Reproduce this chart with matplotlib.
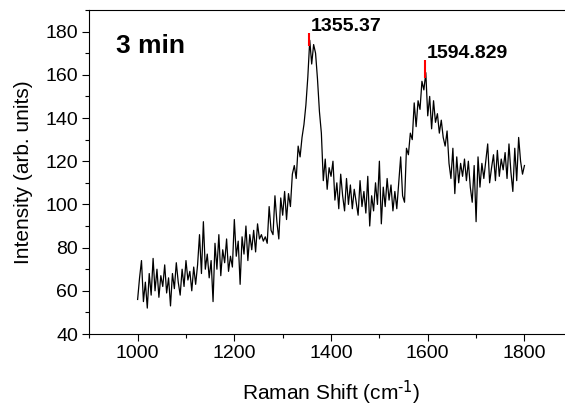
import numpy as np
import matplotlib
matplotlib.use('Agg')
import matplotlib.pyplot as plt

plt.rcParams['font.family'] = ['Liberation Sans', 'DejaVu Sans']
plt.rcParams['mathtext.default'] = 'regular'

# Raman intensity, every 4 cm-1 from 1000 to 1800
intensity = [
    56, 66, 74, 55, 64, 52, 68, 58, 75, 60,
    70, 57, 67, 62, 72, 59, 66, 53, 68, 61,
    73, 64, 58, 70, 62, 74, 65, 69, 60, 71,
    63, 72, 86, 68, 92, 70, 77, 66, 74, 55,
    82, 70, 86, 67, 79, 73, 84, 69, 76, 71,
    93, 76, 83, 63, 85, 77, 90, 74, 86, 79,
    88, 78, 91, 84, 86, 83, 85, 82, 99, 88,
    86, 104, 92, 84, 103, 95, 106, 93, 105, 99,
    114, 118, 112, 127, 122, 131, 137, 146, 159, 176,
    165, 174, 170, 158, 143, 133, 111, 121, 107, 117,
    113, 120, 102, 110, 98, 114, 104, 97, 112, 100,
    109, 98, 107, 101, 95, 111, 99, 106, 96, 113,
    90, 104, 97, 110, 100, 120, 91, 108, 99, 112,
    102, 109, 97, 106, 98, 110, 122, 104, 101, 126,
    123, 133, 130, 147, 136, 148, 144, 157, 153, 161,
    141, 150, 135, 148, 138, 142, 133, 139, 131, 127,
    134, 119, 112, 126, 105, 122, 110, 119, 113, 121,
    111, 120, 108, 101, 118, 92, 122, 108, 119, 112,
    120, 128, 110, 117, 123, 111, 125, 113, 121, 116,
    124, 112, 128, 115, 106, 126, 111, 131, 120, 114,
    118,
]
shift = np.linspace(1000, 1800, len(intensity))

# labelled peaks
peak_pos = [1355.37, 1594.829]
peak_labels = ['1355.37', '1594.829']
peak_top = [179.5, 167]

sample_label = '3 min'

fig = plt.figure(figsize=(5.65, 4.12), dpi=100)
ax = fig.add_axes([0.158, 0.1893, 0.8558, 0.7864])

ax.plot(shift, intensity, color='black', lw=0.9)

for pos, lab, top in zip(peak_pos, peak_labels, peak_top):
    y0 = np.interp(pos, shift, intensity)
    ax.vlines(pos, y0, top, color='red', lw=1.5)
    ax.text(pos + 3, top + 1, lab, fontsize=14, fontweight='bold', va='baseline', ha='left')

ax.text(955, 170, sample_label, fontsize=19, fontweight='bold', va='baseline')

ax.set_xlim(900, 1900)
ax.set_ylim(40, 190)
ax.set_xticks([1000, 1200, 1400, 1600, 1800])
ax.set_xticks(np.arange(900, 1901, 100), minor=True)
ax.set_yticks(np.arange(40, 181, 20))
ax.set_yticks(np.arange(40, 191, 10), minor=True)
ax.tick_params(which='major', direction='out', length=5, width=0.8, labelsize=14, pad=3)
ax.tick_params(which='minor', direction='out', length=3, width=0.8)
for s in ax.spines.values():
    s.set_linewidth(0.8)
ax.spines['right'].set_visible(False)

ax.set_xlabel(r'Raman Shift (cm$^{\text{-1}}$)', fontsize=15, labelpad=12)
ax.set_ylabel('Intensity (arb. units)', fontsize=15, labelpad=9)

plt.savefig('out.png', dpi=100)
